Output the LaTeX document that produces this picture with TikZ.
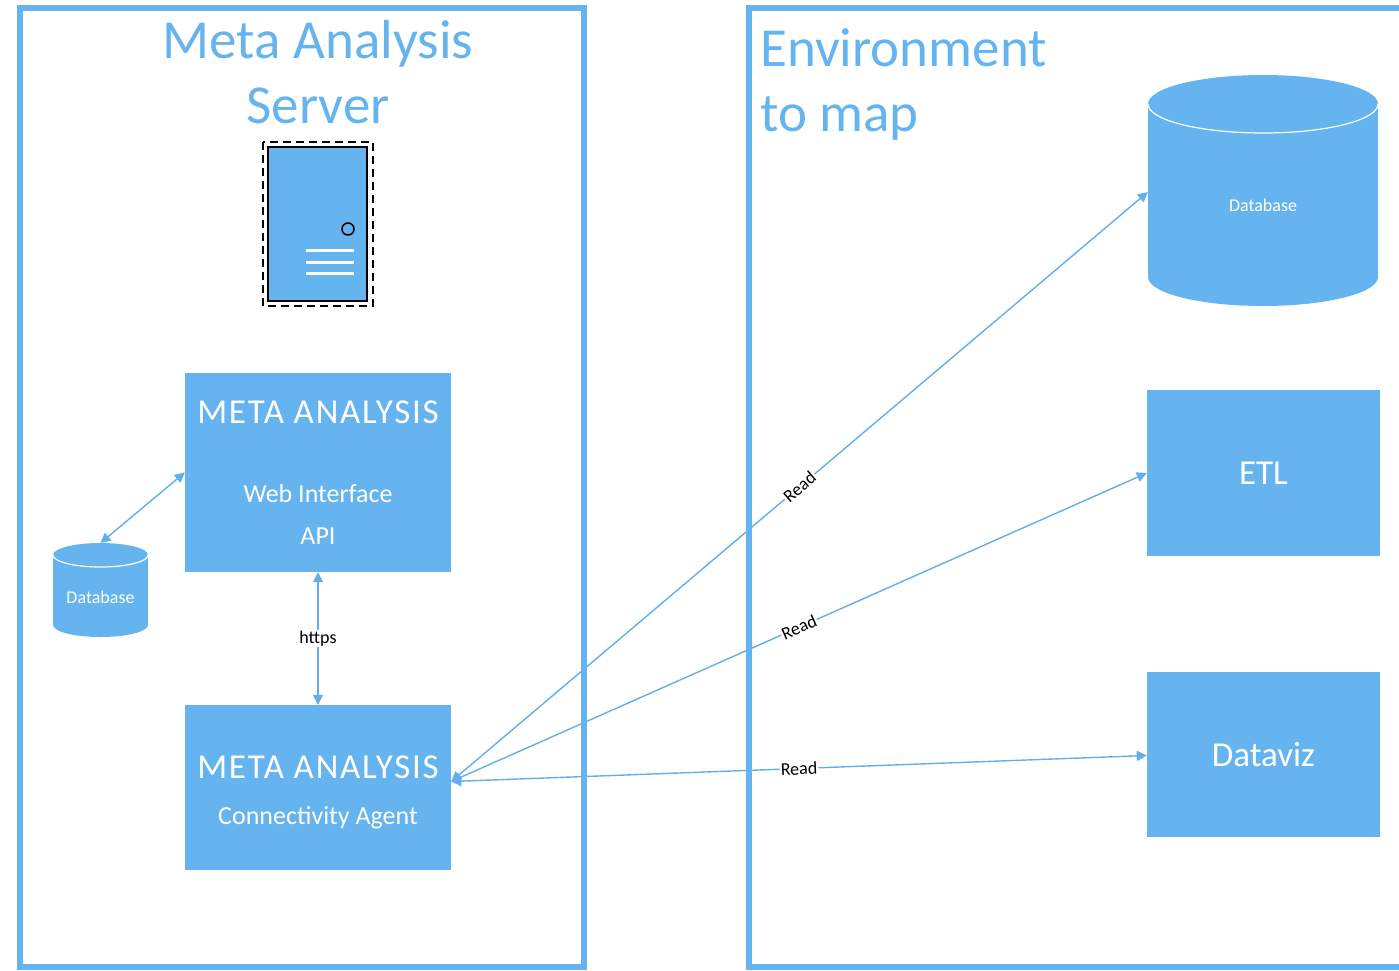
\documentclass[tikz,border=0pt]{standalone}
\usepackage{fontspec}
\setmainfont{Carlito}
\usetikzlibrary{arrows.meta, positioning}

\definecolor{boxblue}{RGB}{101,179,239}
\definecolor{lineblue}{RGB}{98,174,236}

\newcommand{\capsfont}{\fontsize{35}{42}\selectfont}
\newcommand{\headfont}{\fontsize{35}{42}\selectfont\addfontfeatures{LetterSpace=5}}
\newcommand{\subfont}{\fontsize{26}{42}\selectfont}

\tikzset{
  frame/.style = {draw=boxblue, line width=6pt},
  title/.style = {text=boxblue, inner sep=0pt, font=\fontsize{55}{65}\selectfont},
  block/.style = {fill=boxblue, text=white, inner sep=0pt, minimum width=266pt, align=center, font=\subfont},
  dbtext/.style = {text=white, inner sep=0pt, font=\fontsize{18}{20}\selectfont},
  link/.style = {lineblue, line width=1.4pt, {Triangle[length=10pt,width=10pt]}-{Triangle[length=10pt,width=10pt]}},
  tag/.style = {midway, fill=white, text=black, inner sep=1pt, font=\fontsize{18}{20}\selectfont}
}

\begin{document}
\begin{tikzpicture}[x=1pt, y=-1pt]
  \useasboundingbox (0,0) rectangle (1399,970);

  %titles
  \node [title, align=center] (servtitle) at (318,72) {Meta Analysis\\Server};
  \node [title, align=left, anchor=north west] (envtitle) at (760,28) {Environment\\to map};

  %server icon
  \draw [dash pattern=on 8pt off 5pt, line width=1.5pt] (263,142) rectangle (373,306);
  \draw [fill=boxblue, line width=2pt] (268,147) rectangle (367,301);
  \draw [line width=1.5pt] (348,229) circle [radius=6];
  \foreach \y in {250,262,273}
    \draw [white, line width=3pt] (306,\y) -- (354,\y);

  %blocks
  \node [block, minimum height=199pt] (webapi) at (318,472.5) {{\headfont META ANALYSIS}\\[37pt]Web Interface\\API};
  \node [block, minimum height=165pt] (agent) at (318,787.5) {{\headfont\rule{0pt}{32.5pt}META ANALYSIS}\\[4pt]Connectivity Agent};
  \node [block, minimum width=233pt, minimum height=166pt, font=\capsfont] (etl) at (1263.5,473) {ETL};
  \node [block, minimum width=233pt, minimum height=165pt, font=\capsfont] (dataviz) at (1263.5,754.5) {Dataviz};

  %databases
  \foreach \name/\cx/\rx/\ty/\by/\ry/\ly in {smalldb/100.5/47.5/555/625/12/597, bigdb/1263/115/104/277/29/205}{
    \fill [boxblue] (\cx-\rx,\ty) rectangle (\cx+\rx,\by);
    \fill [boxblue] (\cx,\by) ellipse [x radius=\rx, y radius=\ry];
    \fill [boxblue] (\cx,\ty) ellipse [x radius=\rx, y radius=\ry];
    \draw [white, line width=1.2pt] (\cx-\rx,\ty) arc [start angle=180, end angle=0, x radius=\rx, y radius=\ry];
    \coordinate (\name-top) at (\cx,\ty-\ry);
    \node [dbtext, minimum width=2*\rx] (\name) at (\cx,\ly) {Database};
  }

  %connectors
  \coordinate (agentin) at ([yshift=6pt]agent.east);
  \draw [link] (smalldb-top) -- (webapi.west);
  \draw [link] (webapi.south) -- (agent.north) node [tag] {https};
  \draw [link] (agentin) -- ([yshift=13pt]bigdb.west) node [tag, sloped] {Read};
  \draw [link] (agentin) -- (etl.west) node [tag, sloped] {Read};
  \draw [link] (agentin) -- ([yshift=-1pt]dataviz.west) node [tag, sloped] {Read};

  %frames
  \draw [frame] (20,8) rectangle (584,967);
  \draw [frame] (749,8) rectangle (1420,967);
\end{tikzpicture}
\end{document}
